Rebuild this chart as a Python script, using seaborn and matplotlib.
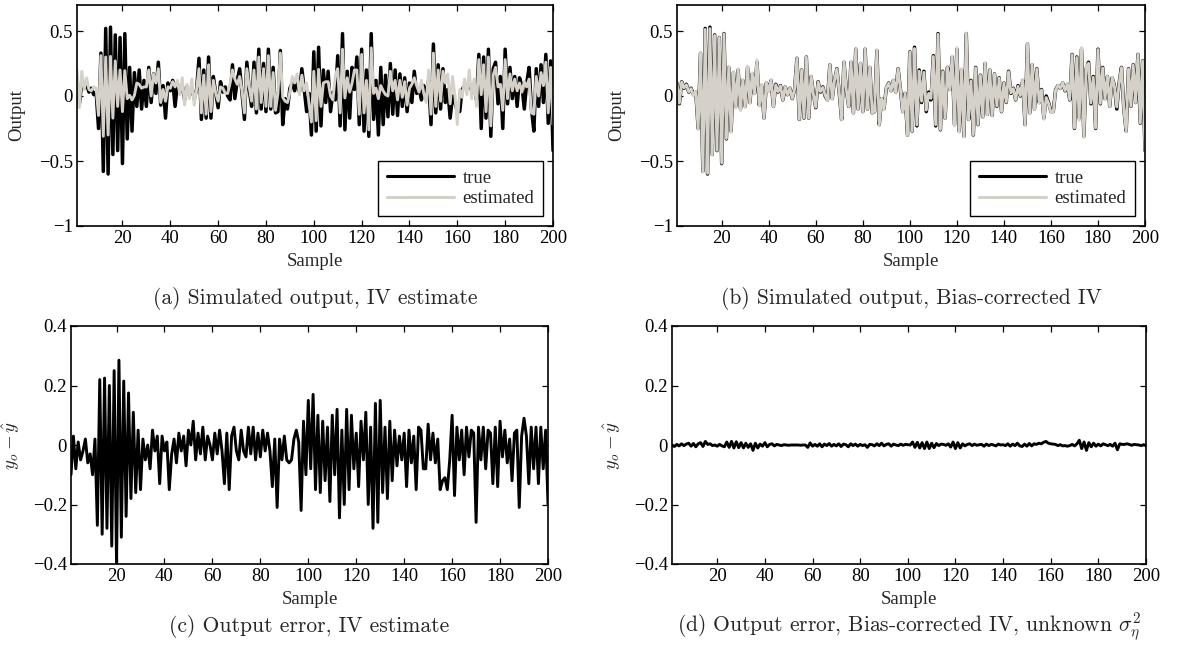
import numpy as np
import matplotlib
matplotlib.use("Agg")
import matplotlib.pyplot as plt
from matplotlib.lines import Line2D
import seaborn as sns

# ---------------- data ----------------
sample = np.arange(1, 201)

y_true = np.array([
    0.10, -0.06, 0.11, 0.06, 0.09, 0.03, 0.06, 0.01, 0.03, -0.25,
    0.33, -0.58, 0.52, -0.60, 0.53, -0.45, 0.47, -0.42, 0.45, -0.52,
    0.48, -0.33, 0.22, -0.27, 0.18, -0.08, 0.20, -0.10, 0.12, -0.08,
    0.22, -0.05, 0.17, 0.02, 0.26, -0.07, 0.08, -0.17, 0.10, 0.04,
    0.12, -0.08, 0.09, 0.03, 0.08, -0.03, 0.07, 0.01, 0.06, -0.02,
    0.05, 0.29, -0.18, 0.20, -0.17, 0.30, -0.17, 0.15, 0.02, -0.09,
    0.11, 0.03, 0.07, 0.00, -0.03, 0.24, -0.02, 0.12, 0.21, 0.02,
    -0.18, 0.26, 0.05, -0.08, 0.26, -0.13, 0.36, -0.10, 0.25, -0.12,
    0.36, -0.10, 0.22, -0.13, -0.12, 0.35, -0.22, -0.02, -0.10, 0.06,
    0.10, 0.04, 0.12, 0.03, 0.21, 0.05, -0.12, 0.02, -0.30, 0.34,
    -0.27, 0.375, -0.23, 0.20, -0.05, 0.19, -0.12, 0.03, -0.03, 0.31,
    -0.23, 0.48, -0.26, 0.19, -0.17, 0.22, 0.05, 0.30, -0.22, 0.36,
    -0.27, 0.20, -0.31, 0.48, -0.18, 0.12, -0.30, 0.22, -0.22, 0.16,
    -0.16, 0.25, -0.14, 0.20, -0.15, 0.17, -0.08, 0.14, -0.12, 0.10,
    -0.05, 0.19, 0.02, 0.06, -0.03, 0.08, 0.00, 0.12, -0.22, 0.40,
    -0.13, 0.24, -0.10, 0.21, -0.05, 0.05, -0.17, 0.00, -0.05, -0.12,
    -0.12, 0.05, 0.08, 0.06, 0.10, 0.04, 0.09, -0.03, 0.32, -0.25,
    0.30, -0.17, 0.36, -0.31, 0.21, 0.26, -0.06, 0.15, -0.25, 0.36,
    -0.06, 0.22, -0.02, 0.15, -0.08, 0.14, 0.08, -0.10, 0.10, 0.22,
    -0.10, -0.27, 0.21, -0.08, 0.24, -0.05, 0.32, -0.21, 0.27, -0.42,
])

# output error of the IV estimate  (panel c)
err_iv = np.array([
    -0.10, 0.03, -0.08, 0.01, -0.05, -0.02, 0.02, -0.06, -0.03, -0.10,
    0.02, -0.27, 0.22, -0.30, 0.225, -0.28, 0.20, -0.34, 0.25, -0.40,
    0.285, -0.31, 0.215, -0.24, 0.175, -0.18, 0.11, -0.16, 0.05, -0.15,
    0.02, -0.05, 0.00, -0.08, 0.05, -0.02, 0.03, -0.13, 0.03, -0.02,
    0.01, -0.15, -0.03, 0.02, -0.06, 0.04, -0.02, 0.03, -0.07, 0.05,
    0.00, 0.08, -0.05, 0.04, -0.03, 0.06, -0.05, 0.03, 0.00, -0.05,
    0.04, -0.03, 0.05, -0.02, -0.13, 0.04, -0.15, 0.03, 0.06, -0.02,
    -0.05, 0.05, -0.02, -0.04, 0.06, -0.03, 0.06, -0.05, 0.04, -0.04,
    0.05, -0.02, 0.04, -0.02, -0.14, 0.02, -0.21, 0.02, -0.05, 0.03,
    -0.05, -0.06, -0.05, 0.02, 0.05, 0.01, -0.22, 0.08, -0.10, 0.15,
    -0.08, 0.17, -0.15, 0.10, -0.16, 0.08, -0.12, 0.06, -0.19, 0.10,
    -0.10, 0.12, -0.245, 0.05, -0.20, 0.12, -0.15, 0.10, -0.08, 0.04,
    -0.14, 0.08, -0.05, 0.11, -0.20, 0.06, -0.28, 0.14, -0.26, 0.15,
    -0.16, 0.06, -0.18, 0.08, -0.12, 0.05, -0.07, 0.03, -0.05, 0.04,
    -0.14, 0.05, -0.06, 0.03, -0.15, 0.06, 0.05, -0.08, -0.08, 0.07,
    -0.05, 0.04, -0.06, 0.02, -0.15, -0.12, -0.11, -0.15, -0.05, 0.10,
    -0.17, 0.06, -0.05, 0.05, -0.10, 0.06, -0.04, 0.05, 0.04, -0.26,
    0.06, -0.05, 0.06, -0.08, 0.05, 0.04, -0.13, 0.06, -0.14, 0.08,
    -0.04, 0.05, -0.06, 0.02, -0.12, 0.04, 0.05, -0.21, 0.03, 0.09,
    0.03, -0.13, 0.06, -0.08, 0.06, -0.13, 0.06, -0.08, 0.05, -0.20,
])

# output error of the bias-corrected IV estimate  (panel d)
err_bc = np.array([
    0.000, -0.005, 0.002, -0.003, 0.004, -0.002, 0.003, 0.006, -0.004, 0.005,
    -0.006, 0.004, 0.008, -0.005, 0.012, 0.002, 0.004, -0.002, 0.000, -0.004,
    0.002, -0.003, -0.006, 0.010, -0.008, 0.012, -0.010, 0.011, -0.009, 0.008,
    -0.010, 0.006, -0.008, 0.004, -0.018, 0.006, -0.010, 0.003, -0.004, 0.008,
    -0.006, 0.002, 0.004, -0.003, 0.002, 0.000, -0.002, 0.001, 0.000, -0.001,
    0.000, 0.000, 0.000, 0.000, -0.001, 0.000, 0.000, -0.008, 0.007, -0.004,
    0.002, -0.004, 0.004, -0.006, 0.003, -0.002, 0.005, -0.004, 0.002, -0.003,
    0.004, -0.005, 0.003, 0.001, -0.006, 0.004, -0.002, 0.003, -0.004, 0.002,
    -0.002, 0.001, -0.008, 0.002, 0.001, -0.003, 0.004, -0.002, 0.006, -0.003,
    0.002, 0.004, -0.004, 0.003, 0.000, -0.002, 0.003, -0.001, 0.002, 0.001,
    0.000, 0.010, -0.008, 0.009, -0.010, 0.008, -0.012, 0.010, -0.012, 0.006,
    -0.009, 0.005, -0.002, 0.003, 0.002, -0.001, 0.004, -0.007, 0.010, -0.012,
    0.008, -0.010, 0.004, -0.003, 0.002, 0.004, -0.002, 0.003, -0.001, 0.001,
    0.002, -0.004, 0.003, -0.002, 0.002, 0.000, -0.003, 0.003, 0.000, 0.001,
    -0.002, 0.004, -0.004, 0.003, -0.002, 0.006, -0.003, -0.005, 0.003, -0.004,
    0.005, -0.003, 0.004, 0.002, 0.006, 0.004, 0.009, 0.012, 0.006, 0.004,
    0.003, 0.002, -0.002, 0.001, -0.003, -0.002, -0.004, -0.002, 0.002, -0.003,
    0.004, 0.016, -0.012, 0.010, -0.018, 0.008, -0.006, 0.006, -0.004, 0.003,
    -0.003, 0.004, 0.001, -0.002, 0.002, -0.004, 0.006, -0.016, 0.004, 0.002,
    0.002, 0.004, 0.002, -0.001, 0.002, 0.001, 0.000, -0.002, 0.001, -0.002,
])

y_iv = y_true - err_iv      # estimated output, IV
y_bc = y_true - err_bc      # estimated output, bias-corrected IV

xticks = [20, 40, 60, 80, 100, 120, 140, 160, 180, 200]
yticks_out = [-1, -0.5, 0, 0.5]
ylabels_out = ["\u22121", "\u22120.5", "0", "0.5"]
yticks_err = [-0.4, -0.2, 0, 0.2, 0.4]
ylabels_err = ["\u22120.4", "\u22120.2", "0", "0.2", "0.4"]
legend_labels = ["true", "estimated"]
captions = [
    "(a) Simulated output, IV estimate",
    "(b) Simulated output, Bias-corrected IV",
    "(c) Output error, IV estimate",
    "(d) Output error, Bias-corrected IV, unknown $\\sigma_\\eta^2$",
]

# ---------------- style ----------------
sns.set_style("ticks")
plt.rcParams["font.family"] = ["Liberation Serif", "DejaVu Serif"]
plt.rcParams["mathtext.fontset"] = "cm"
plt.rcParams["axes.unicode_minus"] = True

TRUE_C = "black"
EST_C = "#d5d1c9"
FS = 13.5

W, H = 1177, 646
fig = plt.figure(figsize=(W / 100, H / 100), dpi=100)


def rect(l, r, t, b):
    return [l / W, 1 - b / H, (r - l) / W, (b - t) / H]


ax_a = fig.add_axes(rect(77, 553, 5, 226))
ax_b = fig.add_axes(rect(677, 1145, 5, 226))
ax_c = fig.add_axes(rect(71, 548, 326, 564))
ax_d = fig.add_axes(rect(672, 1146, 326, 564))


def style(ax, yt, yl, ylim, ylabel, ylpad):
    ax.set_xlim(1, 200)
    ax.set_ylim(*ylim)
    ax.set_xticks(xticks)
    ax.set_xticklabels([str(v) for v in xticks])
    ax.set_yticks(yt)
    ax.set_yticklabels(yl)
    ax.tick_params(direction="in", top=True, right=True, length=4,
                   width=0.9, labelsize=FS, colors="black", pad=3)
    for s in ax.spines.values():
        s.set_visible(True)
        s.set_linewidth(1.2)
        s.set_color("black")
    ax.set_xlabel("Sample", fontsize=FS, labelpad=4)
    ax.set_ylabel(ylabel, fontsize=FS, labelpad=ylpad)


# (a) and (b): simulated output
for ax, est in ((ax_a, y_iv), (ax_b, y_bc)):
    sns.lineplot(x=sample, y=y_true, ax=ax, color=TRUE_C, linewidth=2.5,
                 estimator=None, legend=False)
    sns.lineplot(x=sample, y=est, ax=ax, color=EST_C, linewidth=2.1,
                 estimator=None, legend=False)
    style(ax, yticks_out, ylabels_out, (-1, 0.7), "Output", 10)
    handles = [Line2D([], [], color=TRUE_C, linewidth=2.2),
               Line2D([], [], color=EST_C, linewidth=2.2)]
    leg = ax.legend(handles, legend_labels, loc="lower right", fontsize=FS,
                    handlelength=3.6, fancybox=False, framealpha=1,
                    edgecolor="black", borderaxespad=0.55, borderpad=0.45,
                    labelspacing=0.17, handletextpad=0.45)
    leg.get_frame().set_linewidth(1.0)

# (c) and (d): output error
for ax, err in ((ax_c, err_iv), (ax_d, err_bc)):
    sns.lineplot(x=sample, y=err, ax=ax, color=TRUE_C, linewidth=2.1,
                 estimator=None, legend=False)
    style(ax, yticks_err, ylabels_err, (-0.4, 0.4), r"$y_o - \hat{y}$", 8)

# captions
cap_pos = [((77 + 553) / 2, 298), ((677 + 1145) / 2, 298),
           ((71 + 548) / 2, 627), ((672 + 1146) / 2, 627)]
for (cx, cy), txt in zip(cap_pos, captions):
    fig.text(cx / W, 1 - cy / H, txt, ha="center", va="center",
             fontsize=15.5, family="cmr10")

fig.savefig("out.png", dpi=100)
